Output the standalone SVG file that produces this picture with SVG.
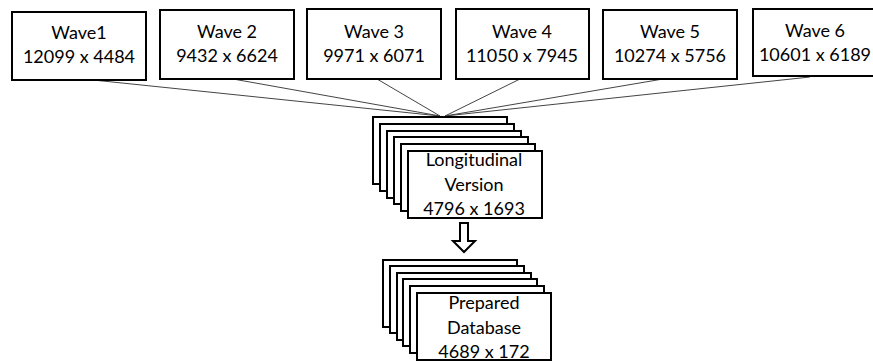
<svg xmlns="http://www.w3.org/2000/svg" width="873" height="361" viewBox="0 0 873 361">
  <style>
    .box { fill: #ffffff; stroke: #000000; stroke-width: 2; }
    .lbl { font-family: Lato, "Liberation Sans", sans-serif; font-size: 18px; fill: #000000; text-anchor: middle; }
    .link { stroke: #444444; stroke-width: 1; fill: none; }
  </style>
  <defs>
    <rect id="card" width="134" height="67" class="box"/>
  </defs>
  <rect width="873" height="361" fill="#ffffff"/>

  <g id="connectors">
    <line class="link" x1="93" y1="80" x2="440" y2="116"/>
    <line class="link" x1="233" y1="79" x2="440" y2="116"/>
    <line class="link" x1="377" y1="79" x2="440" y2="116"/>
    <line class="link" x1="520" y1="79" x2="445" y2="116"/>
    <line class="link" x1="663" y1="79" x2="445" y2="116"/>
    <line class="link" x1="810" y1="77" x2="445" y2="116"/>
    <polygon class="box" points="460,223 468,223 468,241 475,241 464,252 453,241 460,241"/>
  </g>

  <g id="wave1">
    <rect class="box" x="12" y="12" width="134" height="68"/>
    <text class="lbl" x="79" y="39">Wave1</text>
    <text class="lbl" x="79" y="63">12099 x 4484</text>
  </g>
  <g id="wave2">
    <rect class="box" x="160" y="10" width="134" height="69"/>
    <text class="lbl" x="227" y="38">Wave 2</text>
    <text class="lbl" x="227" y="62">9432 x 6624</text>
  </g>
  <g id="wave3">
    <rect class="box" x="307" y="9" width="134" height="70"/>
    <text class="lbl" x="374" y="38">Wave 3</text>
    <text class="lbl" x="374" y="62">9971 x 6071</text>
  </g>
  <g id="wave4">
    <rect class="box" x="456" y="9" width="133" height="70"/>
    <text class="lbl" x="522" y="38">Wave 4</text>
    <text class="lbl" x="522" y="62">11050 x 7945</text>
  </g>
  <g id="wave5">
    <rect class="box" x="603" y="10" width="134" height="69"/>
    <text class="lbl" x="670" y="38">Wave 5</text>
    <text class="lbl" x="670" y="62">10274 x 5756</text>
  </g>
  <g id="wave6">
    <rect class="box" x="753" y="9" width="134" height="67"/>
    <text class="lbl" x="815" y="37">Wave 6</text>
    <text class="lbl" x="815" y="61">10601 x 6189</text>
  </g>

  <g id="longitudinal">
    <use href="#card" x="373" y="117"/>
    <use href="#card" x="380" y="124"/>
    <use href="#card" x="387" y="131"/>
    <use href="#card" x="394" y="137"/>
    <use href="#card" x="401" y="144"/>
    <use href="#card" x="408" y="151"/>
    <text class="lbl" x="474" y="166">Longitudinal</text>
    <text class="lbl" x="474" y="191">Version</text>
    <text class="lbl" x="474" y="215">4796 x 1693</text>
  </g>

  <g id="prepared">
    <use href="#card" x="383" y="260"/>
    <use href="#card" x="390" y="266"/>
    <use href="#card" x="397" y="273"/>
    <use href="#card" x="403" y="279"/>
    <use href="#card" x="410" y="286"/>
    <use href="#card" x="417" y="293"/>
    <text class="lbl" x="484" y="309">Prepared</text>
    <text class="lbl" x="484" y="334">Database</text>
    <text class="lbl" x="484" y="358">4689 x 172</text>
  </g>
</svg>
